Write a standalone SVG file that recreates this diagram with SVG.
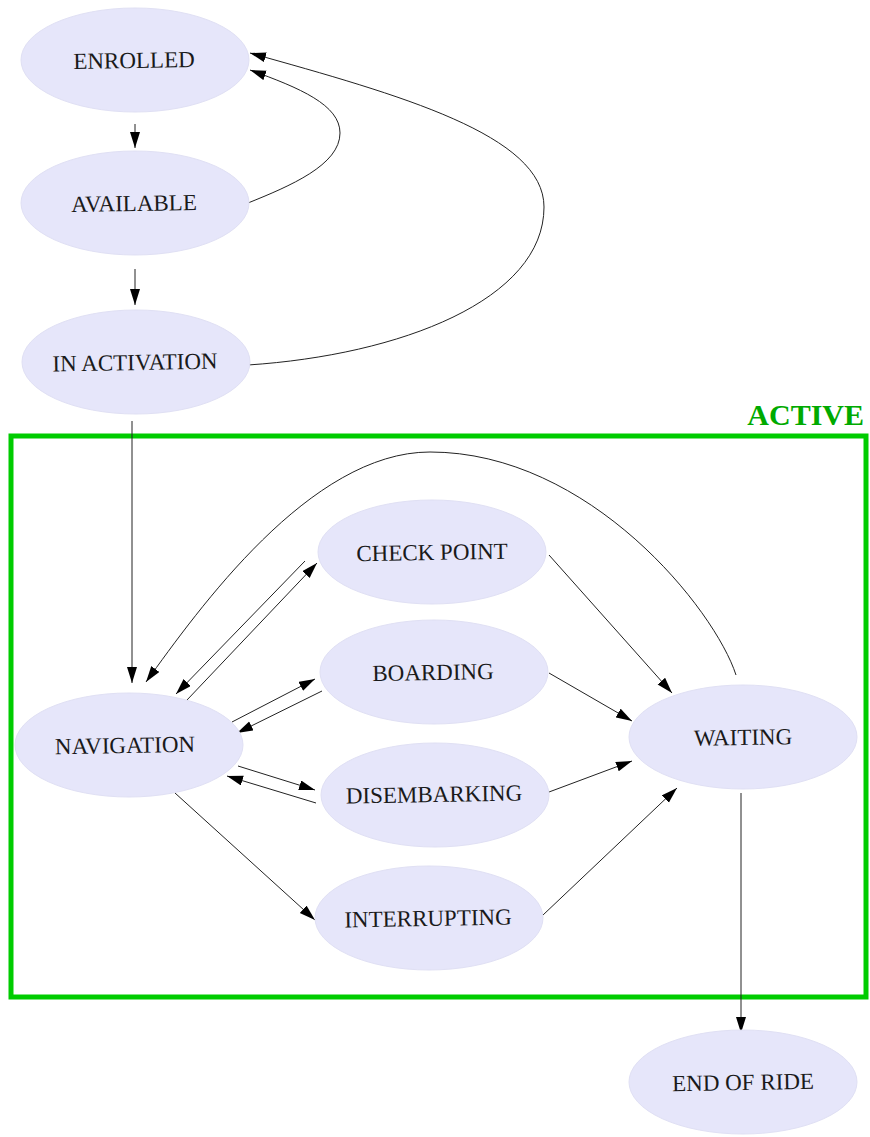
<svg xmlns="http://www.w3.org/2000/svg" width="870" height="1137" viewBox="0 0 870 1137">
<style>
.node ellipse{fill:#e6e6fa;stroke:#e0e0f4;stroke-width:1}
.node text{font-family:"Liberation Serif","Times New Roman",serif;font-size:23px;fill:#1a1a1a;text-anchor:middle}
.edge{fill:none;stroke:#222;stroke-width:1;marker-end:url(#arr)}
</style>
<defs>
<marker id="arr" markerUnits="userSpaceOnUse" markerWidth="17" markerHeight="11" refX="16" refY="5" orient="auto" viewBox="0 0 17 11">
<path d="M0,0 L16,5 L0,10 z" fill="#000"/>
</marker>
</defs>
<rect x="0" y="0" width="870" height="1137" fill="#fff"/>
<g id="cluster-active">
<rect x="11" y="436" width="855" height="561" fill="none" stroke="#00cc00" stroke-width="5"/>
<text x="864" y="425" font-family="Liberation Serif, serif" font-weight="bold" font-size="30" fill="#00aa00" text-anchor="end">ACTIVE</text>
</g>
<g id="connectors">
<path class="edge" d="M135,124 L135,148"/>
<path class="edge" d="M135,269 L135,305"/>
<path class="edge" d="M248,203 C290,186 340,165 340,133 C340,105 300,88 250,70"/>
<path class="edge" d="M248,365 C400,355 544,300 544,207 C544,135 400,95 250,53"/>
<path class="edge" d="M132,421 L132,683"/>
<path class="edge" d="M736,675 C715,610 590,452 430,452 C310,452 198,610 146,682"/>
<path class="edge" d="M187,700 L317,563"/>
<path class="edge" d="M305,561 L176,694"/>
<path class="edge" d="M232,722 L315,679"/>
<path class="edge" d="M322,691 L237,733"/>
<path class="edge" d="M238,766 L315,790"/>
<path class="edge" d="M316,803 L227,776"/>
<path class="edge" d="M175,793 L315,920"/>
<path class="edge" d="M549,555 L672,693"/>
<path class="edge" d="M549,673 L632,721"/>
<path class="edge" d="M549,792 L632,761"/>
<path class="edge" d="M543,915 L677,788"/>
<path class="edge" d="M741,793 L741,1033"/>
</g>
<g id="enrolled" class="node"><ellipse cx="135" cy="60" rx="114" ry="52"/><text x="134" y="68" transform="rotate(-1 134 60)">ENROLLED</text></g>
<g id="available" class="node"><ellipse cx="135" cy="203" rx="114" ry="52"/><text x="134" y="211" transform="rotate(-1 134 203)">AVAILABLE</text></g>
<g id="in-activation" class="node"><ellipse cx="136" cy="362" rx="114" ry="52"/><text x="135" y="370" transform="rotate(-1 135 362)">IN ACTIVATION</text></g>
<g id="navigation" class="node"><ellipse cx="129" cy="745" rx="114" ry="52"/><text x="125" y="753" transform="rotate(-1 125 745)">NAVIGATION</text></g>
<g id="check-point" class="node"><ellipse cx="432" cy="552" rx="114" ry="52"/><text x="432" y="560" transform="rotate(-1 432 552)">CHECK POINT</text></g>
<g id="boarding" class="node"><ellipse cx="434" cy="672" rx="114" ry="52"/><text x="433" y="680" transform="rotate(-1 433 672)">BOARDING</text></g>
<g id="disembarking" class="node"><ellipse cx="435" cy="795" rx="114" ry="52"/><text x="434" y="802" transform="rotate(-1 434 794)">DISEMBARKING</text></g>
<g id="interrupting" class="node"><ellipse cx="429" cy="918" rx="114" ry="52"/><text x="428" y="926" transform="rotate(-1 428 918)">INTERRUPTING</text></g>
<g id="waiting" class="node"><ellipse cx="743" cy="737" rx="114" ry="52"/><text x="743" y="745" transform="rotate(-1 743 737)">WAITING</text></g>
<g id="end-of-ride" class="node"><ellipse cx="743" cy="1082" rx="114" ry="52"/><text x="743" y="1090" transform="rotate(-1 743 1082)">END OF RIDE</text></g>
</svg>
